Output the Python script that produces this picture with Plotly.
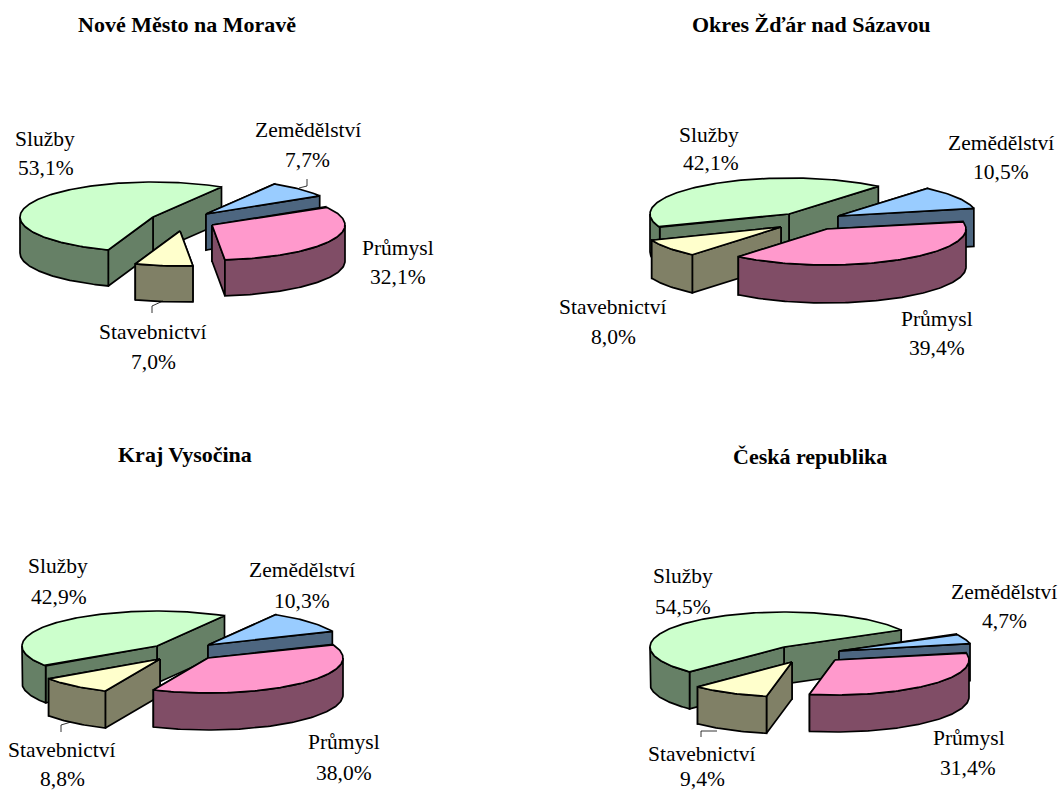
import numpy as np
import plotly.graph_objects as go

# ---- data (percent) ----
categories = ["Zemědělství", "Průmysl", "Stavebnictví", "Služby"]
regions = ["Nové Město na Moravě", "Okres Žďár nad Sázavou", "Kraj Vysočina", "Česká republika"]
nove_mesto = [7.7, 32.1, 7.0, 53.1]
okres_zdar = [10.5, 39.4, 8.0, 42.1]
kraj_vysocina = [10.3, 38.0, 8.8, 42.9]
ceska_republika = [4.7, 31.4, 9.4, 54.5]
series = [nove_mesto, okres_zdar, kraj_vysocina, ceska_republika]

# ---- styles ----
TOP = ["#99CCFF", "#FF99CC", "#FFFFCC", "#CCFFCC"]
SIDE = ["#4D6680", "#804D66", "#808066", "#668066"]
FONT = "Liberation Serif"
DRAW_ORDER = [3, 0, 2, 1]

# ---- layout of each pie: pixel-space axes, radii, rotation, per-slice anchors ----
PIES = [
    dict(rx=133, ry=35, depth=36, start=31,
         anchors=[(206, 214), (212, 225), (180, 231), (153, 217)],
         title=(187, 24),
         labels=[((308, 130), (307, 160)), ((398, 248), (398, 277)),
                 ((153, 332), (153, 362)), ((45, 139), (46, 168))],
         leaders=[[(307, 179), (307, 186), (299, 188)], [(152, 313), (152, 306), (163, 301)]]),
    dict(rx=139, ry=36, depth=38, start=40,
         anchors=[(838, 216), (827, 229), (781, 227), (789, 214)],
         title=(811, 24),
         labels=[((1001, 143), (1001, 172)), ((937, 319), (937, 348)),
                 ((613, 307), (613, 337)), ((709, 135), (711, 163))],
         leaders=[]),
    dict(rx=135, ry=35, depth=37, start=30,
         anchors=[(208, 645), (208, 658), (160, 659), (157, 646)],
         title=(185, 454),
         labels=[((302, 570), (302, 601)), ((344, 742), (344, 773)),
                 ((62, 750), (62, 779)), ((58, 566), (59, 597))],
         leaders=[[(61, 732), (61, 725), (71, 722)]]),
    dict(rx=134, ry=35, depth=37, start=61,
         anchors=[(839, 651), (835, 660), (792, 662), (784, 647)],
         title=(810, 456),
         labels=[((1004, 592), (1004, 621)), ((969, 738), (968, 768)),
                 ((702, 754), (702, 779)), ((683, 576), (683, 607))],
         leaders=[[(701, 737), (701, 731), (717, 731)]]),
]

fig = go.Figure()


def poly(xs, ys, fill):
    fig.add_trace(go.Scatter(x=xs, y=ys, mode="lines", fill="toself", fillcolor=fill,
                             line=dict(color="black", width=1.7), hoverinfo="skip",
                             showlegend=False))


def rim(cx, cy, rx, ry, a0, a1):
    """Ellipse arc, angles in degrees clockwise from 12 o'clock."""
    n = max(2, int(abs(a1 - a0)) + 1)
    t = np.radians(np.linspace(a0, a1, n))
    return cx + rx * np.sin(t), cy - ry * np.cos(t)


annotations = []
for pie, values, region in zip(PIES, series, regions):
    rx, ry, d = pie["rx"], pie["ry"], pie["depth"]
    spans = np.array(values) / sum(values) * 360
    starts = pie["start"] + np.concatenate([[0], np.cumsum(spans)[:-1]])

    for i in DRAW_ORDER:
        cx, cy = pie["anchors"][i]
        a0, a1 = starts[i], starts[i] + spans[i]
        ax, ay = rim(cx, cy, rx, ry, a0, a1)

        # radial cut faces, the one further back first
        ends = sorted([(ay[0], ax[0]), (ay[-1], ax[-1])])
        for py, px in ends:
            poly([cx, px, px, cx, cx], [cy, py, py + d, cy + d, cy], SIDE[i])

        # outer wall: the part of the rim facing the viewer (90..270 deg, repeated every 360)
        for k in (0, 360):
            lo, hi = max(a0, 90 + k), min(a1, 270 + k)
            if hi > lo:
                wx, wy = rim(cx, cy, rx, ry, lo, hi)
                poly(np.r_[wx, wx[::-1], wx[0]], np.r_[wy, wy[::-1] + d, wy[0]], SIDE[i])

        # top surface
        poly(np.r_[cx, ax, cx], np.r_[cy, ay, cy], TOP[i])

    for seg in pie["leaders"]:
        fig.add_trace(go.Scatter(x=[p[0] for p in seg], y=[p[1] for p in seg], mode="lines",
                                 line=dict(color="black", width=0.8), hoverinfo="skip",
                                 showlegend=False))

    annotations.append(dict(x=pie["title"][0], y=pie["title"][1], text=f"<b>{region}</b>",
                            font=dict(family=FONT, size=22, color="black")))
    for cat, val, (p_name, p_val) in zip(categories, values, pie["labels"]):
        annotations.append(dict(x=p_name[0], y=p_name[1], text=cat,
                                font=dict(family=FONT, size=21.5, color="black")))
        annotations.append(dict(x=p_val[0], y=p_val[1], text=f"{val:.1f}%".replace(".", ","),
                                font=dict(family=FONT, size=21.5, color="black")))

for a in annotations:
    a.update(showarrow=False, xanchor="center", yanchor="middle", xref="x", yref="y")

fig.update_layout(
    width=1061, height=792, margin=dict(l=0, r=0, t=0, b=0),
    paper_bgcolor="white", plot_bgcolor="white", annotations=annotations, showlegend=False,
    xaxis=dict(range=[0, 1061], visible=False, fixedrange=True),
    yaxis=dict(range=[792, 0], visible=False, fixedrange=True),
)
fig.write_html("out.html", config={"displayModeBar": False},
               post_script="document.body.style.margin='0';document.body.style.overflow='hidden';")
